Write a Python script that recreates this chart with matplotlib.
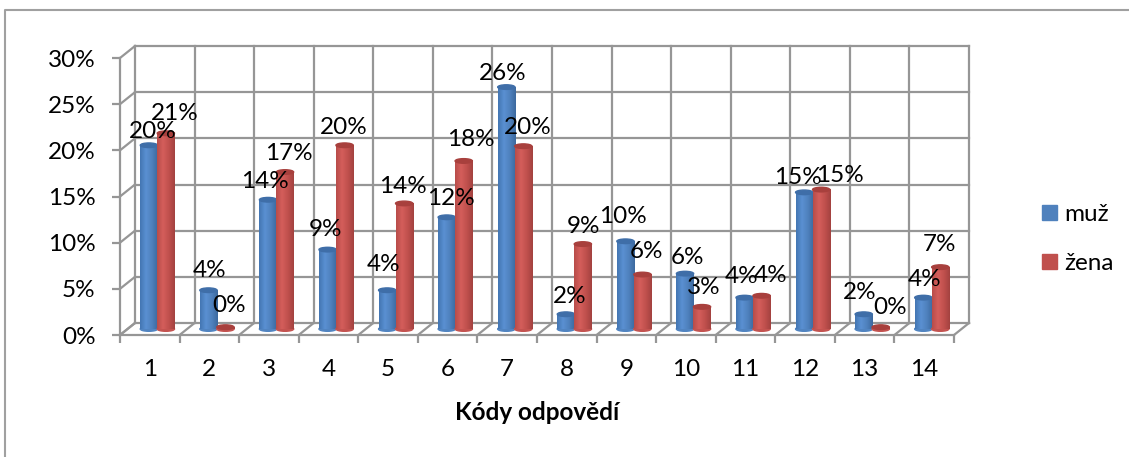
# -*- coding: utf-8 -*-
import numpy as np
import matplotlib
matplotlib.use("Agg")
import matplotlib.pyplot as plt
from matplotlib.colors import LinearSegmentedColormap
from matplotlib.lines import Line2D
from matplotlib.patches import Ellipse, Patch

categories = ["1", "2", "3", "4", "5", "6", "7", "8", "9", "10", "11", "12", "13", "14"]
muz = [19.9, 4.2, 14.0, 8.6, 4.2, 12.1, 26.2, 1.6, 9.5, 6.0, 3.4, 14.8, 1.6, 3.4]
zena = [21.2, 0.2, 17.0, 19.9, 13.6, 18.2, 19.8, 9.2, 5.9, 2.4, 3.6, 15.1, 0.2, 6.7]
muz_labels = [20, 4, 14, 9, 4, 12, 26, 2, 10, 6, 4, 15, 2, 4]
zena_labels = [21, 0, 17, 20, 14, 18, 20, 9, 6, 3, 4, 15, 0, 7]
y_ticks = [0, 5, 10, 15, 20, 25, 30]

# where each label sits relative to the top of its bar, in pixels
muz_dx = [4, 1.5, -3, -2.6, -4, 4.3, -3.3, 4, -2.5, 2, -2.6, -6, -3.7, 1.7]
muz_dy = [14, 20, 18, 20, 26, 19, 14, 18, 25, 16, 21, 15, 22, 18]
zena_dx = [9, 3.5, 4, -0.6, -1.2, 7.3, 4.7, 1.1, 4.5, 2, 9.4, 18.8, 9.3, -0.3]
zena_dy = [20, 22, 19, 18, 17, 21, 19, 18, 23, 19, 20, 14, 20, 23]

W, H = 1129, 457
plt.rcParams["font.family"] = ["Lato", "DejaVu Sans"]
GRID = "#969696"
FS = 17.5

fig = plt.figure(figsize=(W / 100, H / 100), dpi=100)
# chart frame, only left and top are in the picture
fig.add_artist(Line2D([5 / W, 5 / W, 1], [0, 1 - 10 / H, 1 - 10 / H], transform=fig.transFigure,
                      color="#a0a0a0", lw=1.5))

# axes = front plane of the 3d box
ax = fig.add_axes([120 / W, 1 - 335 / H, 834 / W, 277 / H])
ax.set_xlim(0, 14)
ax.set_ylim(0, 30)
ax.patch.set_visible(False)
for s in ax.spines.values():
    s.set_visible(False)

dx = 15 / (834 / 14)  # depth of the box
dy = 12 / (277 / 30)
lkw = dict(color=GRID, lw=1.6, clip_on=False, zorder=1, solid_capstyle="projecting")

# back wall
for v in y_ticks:
    ax.plot([dx, 14 + dx], [v + dy, v + dy], **lkw)
    ax.plot([0, dx], [v, v + dy], **lkw)
for i in range(15):
    ax.plot([i + dx, i + dx], [dy, 30 + dy], **lkw)
    ax.plot([i, i + dx], [0, dy], **lkw)
ax.plot([0, 0], [0, 30], **lkw)
ax.plot([0, 14], [0, 0], **lkw)

ax.set_xticks(np.arange(15))
ax.set_xticklabels([])
ax.set_yticks(y_ticks)
ax.set_yticklabels(["%d%%" % v for v in y_ticks], fontsize=FS)
ax.tick_params(axis="both", color=GRID, width=1.6, length=6)
ax.tick_params(axis="y", pad=11.5)
for i, c in enumerate(categories):
    ax.annotate(c, (i + 0.5, 0), xytext=(0, -34), textcoords="offset pixels", ha="center",
                va="center", fontsize=FS)
ax.annotate("Kódy odpovědí", (7, 0), xytext=(0, -77), textcoords="offset pixels", ha="center",
            va="center", fontsize=FS, fontweight="bold")

blue_map = LinearSegmentedColormap.from_list("b", ["#4376b2", "#5a90d2", "#4f81bd", "#3c699f"])
red_map = LinearSegmentedColormap.from_list("r", ["#b84c49", "#d45e5b", "#c0504d", "#a34240"])
grad = np.linspace(0, 1, 64).reshape(1, -1)

bar_w = 0.29
base = 6 / (277 / 30)  # bars stand on the middle of the floor
ell_h = 0.5


def draw_series(vals, labels, xoff, color, cmap, top, label_dx, label_dy, z):
    xs = np.arange(14) + xoff
    bars = ax.bar(xs, vals, width=bar_w, bottom=base, color=color, zorder=z, clip_on=False)
    for b, v, t, x, ldx, ldy in zip(bars, vals, labels, xs, label_dx, label_dy):
        ax.imshow(grad, cmap=cmap, extent=(x - bar_w / 2, x + bar_w / 2, base, base + v),
                  aspect="auto", zorder=z + 0.1, clip_on=False)
        ax.add_patch(Ellipse((x, base), bar_w, ell_h, color=cmap(0.6), zorder=z, clip_on=False))
        ax.add_patch(Ellipse((x, base + v), bar_w, ell_h, color=top, zorder=z + 0.2, clip_on=False))
        ax.annotate("%d%%" % t, (x, base + v), xytext=(ldx, ldy), textcoords="offset pixels",
                    ha="center", va="center", fontsize=FS, zorder=10, annotation_clip=False)


draw_series(muz, muz_labels, 0.485, "#4f81bd", blue_map, "#3f6ea8", muz_dx, muz_dy, 3)
draw_series(zena, zena_labels, 0.77, "#c0504d", red_map, "#a8403d", zena_dx, zena_dy, 4)
ax.set_xlim(0, 14)
ax.set_ylim(0, 30)

handles = [Patch(color="#4f81bd", label="muž"), Patch(color="#c0504d", label="žena")]
fig.legend(handles=handles, loc="upper left", bbox_to_anchor=(1042 / W, 1 - 204 / H), frameon=False,
           fontsize=FS, handlelength=0.62, handleheight=0.62, handletextpad=0.3, labelspacing=1.15,
           borderpad=0, borderaxespad=0)

fig.savefig("out.png", dpi=100)
